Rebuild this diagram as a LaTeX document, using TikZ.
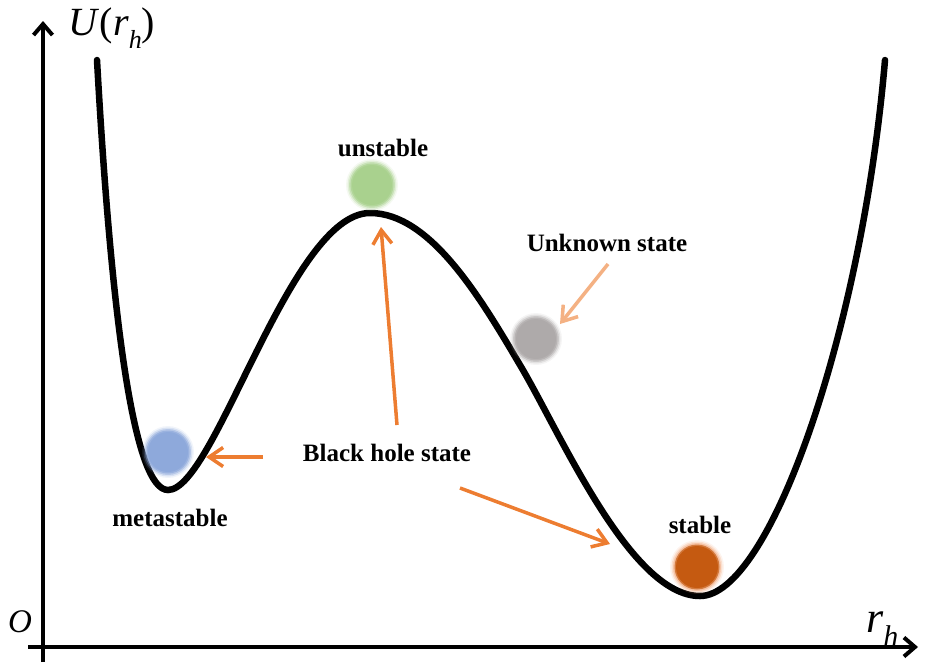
\documentclass[tikz,border=0pt]{standalone}
\usepackage{fontspec}
\setmainfont{Liberation Serif}
\usetikzlibrary{arrows.meta}
\definecolor{arrowor}{HTML}{ED7D31}
\definecolor{arrowlt}{HTML}{F4B183}
\definecolor{ballblue}{HTML}{8EA9DB}
\definecolor{ballgreen}{HTML}{A9D18E}
\definecolor{ballgray}{HTML}{AEAAAA}
\definecolor{ballorange}{HTML}{C55A11}
\definecolor{ballorangeE}{HTML}{F0A070}
\tikzset{
  axisline/.style={line width=4pt, -{Straight Barb[length=11pt,width=19pt,line width=4pt]}},
  curveline/.style={line width=6.5pt, line cap=round},
  pointer/.style={line width=3.5pt, draw=arrowor, -{Straight Barb[length=14pt,width=19pt,line width=3.5pt]}},
  lightpointer/.style={pointer, draw=arrowlt},
  lbl/.style={font=\fontsize{25}{30}\selectfont\bfseries, inner sep=0pt},
  mathlbl/.style={inner sep=0pt},
}
\newcommand{\ballat}[4]{%
  \fill[#3, opacity=0.12] (#1) circle[radius=#4+4];
  \fill[#3, opacity=0.25] (#1) circle[radius=#4+2.5];
  \fill[#3, opacity=0.45] (#1) circle[radius=#4+1];
  \fill[#2, opacity=0.7] (#1) circle[radius=#4-0.5];
  \fill[#2] (#1) circle[radius=#4-2];
}
\begin{document}
\begin{tikzpicture}[x=1pt,y=-1pt]
\useasboundingbox (0,0) rectangle (928,667);
% axes
\coordinate (ybot) at (43,662);
\coordinate (ytop) at (43,21);
\coordinate (xleft) at (28,647);
\coordinate (xright) at (918,647);
\draw[axisline] (ybot) -- (ytop);
\draw[axisline] (xleft) -- (xright);
\node[mathlbl, font=\fontsize{40}{44}\selectfont] (ulabel) at (112,28) {\textit{U}(\textit{r}\raisebox{-0.32em}{\fontsize{26}{28}\selectfont\textit{h}})};
\node[mathlbl, font=\fontsize{44}{48}\selectfont, anchor=base west] (rlabel) at (866,632) {\textit{r}\raisebox{-0.32em}{\fontsize{30}{32}\selectfont\textit{h}}};
\node[mathlbl, font=\fontsize{33}{36}\selectfont] (olabel) at (20,622) {\textit{O}};
% potential curve
\draw[curveline] (97,60) .. controls (112,330) and (135,490) .. (168,490)
  .. controls (215,490) and (290,213) .. (370,213)
  .. controls (430,213) and (480,297) .. (520,365)
  .. controls (560,432) and (630,596) .. (700,596)
  .. controls (770,596) and (862,330) .. (885,60);
% balls
\coordinate (bblue) at (168,452);
\coordinate (bgreen) at (372,185);
\coordinate (bgray) at (536,339);
\coordinate (borange) at (697,567);
\ballat{bblue}{ballblue}{ballblue}{22}
\ballat{bgreen}{ballgreen}{ballgreen}{22}
\ballat{bgray}{ballgray}{ballgray}{22}
\ballat{borange}{ballorange}{ballorangeE}{23}
% labels
\node[lbl] (unst) at (383,148) {unstable};
\node[lbl] (unkn) at (607,243) {Unknown state};
\node[lbl] (meta) at (170,518) {metastable};
\node[lbl] (stab) at (700,525) {stable};
\node[lbl] (bhs) at (387,453) {Black hole state};
% pointers
\coordinate (a1s) at (263,457);
\coordinate (a1e) at (206,457);
\coordinate (a2s) at (397,425);
\coordinate (a2e) at (381,227);
\coordinate (a3s) at (460,488);
\coordinate (a3e) at (610,544);
\coordinate (a4s) at (608,264);
\coordinate (a4e) at (560,324);
\draw[pointer] (a1s) -- (a1e);
\draw[pointer] (a2s) -- (a2e);
\draw[pointer] (a3s) -- (a3e);
\draw[lightpointer] (a4s) -- (a4e);
\end{tikzpicture}
\end{document}
